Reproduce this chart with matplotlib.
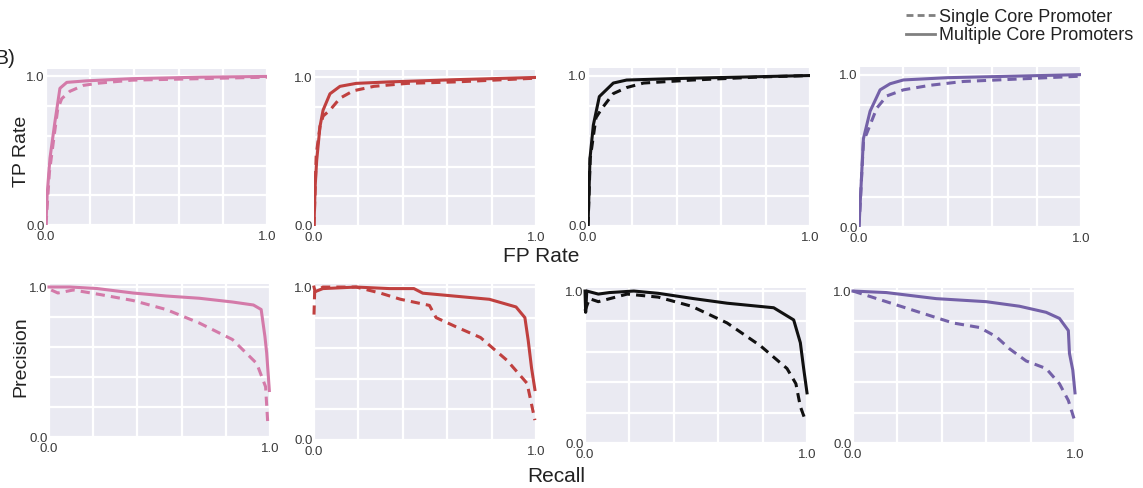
import matplotlib
matplotlib.use('Agg')
import matplotlib.pyplot as plt
from matplotlib.lines import Line2D
import numpy as np

plt.rcParams['font.family'] = ['Liberation Sans', 'DejaVu Sans']

# colours per promoter group (columns)
colors = ['#d47aa9', '#c0403f', '#111111', '#7461a8']

# ROC curves: (FP rate, TP rate)
roc_multi_fpr = [
    [0, 0.005, 0.018, 0.04, 0.063, 0.094, 0.18, 0.39, 0.70, 1.0],
    [0, 0.005, 0.012, 0.027, 0.041, 0.072, 0.117, 0.19, 0.34, 0.64, 1.0],
    [0, 0.009, 0.024, 0.051, 0.114, 0.174, 0.40, 0.70, 1.0],
    [0, 0.02, 0.05, 0.095, 0.14, 0.20, 0.40, 0.70, 1.0],
]
roc_multi_tpr = [
    [0, 0.2, 0.45, 0.69, 0.92, 0.96, 0.97, 0.985, 0.995, 1.0],
    [0, 0.26, 0.44, 0.67, 0.78, 0.89, 0.94, 0.96, 0.97, 0.985, 1.0],
    [0, 0.45, 0.67, 0.86, 0.95, 0.97, 0.98, 0.99, 1.0],
    [0, 0.58, 0.76, 0.90, 0.94, 0.965, 0.98, 0.99, 1.0],
]
roc_single_fpr = [
    [0, 0.015, 0.035, 0.053, 0.071, 0.108, 0.17, 0.24, 0.39, 0.70, 1.0],
    [0, 0.01, 0.027, 0.041, 0.072, 0.117, 0.177, 0.27, 0.42, 0.64, 1.0],
    [0, 0.01, 0.036, 0.062, 0.114, 0.174, 0.25, 0.47, 0.77, 1.0],
    [0, 0.02, 0.05, 0.08, 0.125, 0.20, 0.32, 0.47, 0.70, 1.0],
]
roc_single_tpr = [
    [0, 0.35, 0.58, 0.78, 0.85, 0.90, 0.94, 0.955, 0.975, 0.985, 0.995],
    [0, 0.48, 0.67, 0.74, 0.78, 0.86, 0.91, 0.94, 0.96, 0.97, 0.995],
    [0, 0.45, 0.72, 0.78, 0.88, 0.92, 0.95, 0.97, 0.99, 1.0],
    [0, 0.56, 0.67, 0.78, 0.86, 0.90, 0.93, 0.955, 0.97, 0.99],
]

# PR curves: (recall, precision)
pr_multi_rec = [
    [0, 0.095, 0.216, 0.38, 0.53, 0.68, 0.83, 0.925, 0.96, 0.977, 0.985, 0.997],
    [0, 0.005, 0.04, 0.19, 0.34, 0.45, 0.49, 0.64, 0.79, 0.91, 0.95, 0.965, 0.98, 0.995],
    [0, 0.003, 0.008, 0.06, 0.11, 0.22, 0.33, 0.49, 0.64, 0.85, 0.94, 0.97, 0.985, 1.0],
    [0, 0.15, 0.375, 0.60, 0.75, 0.87, 0.93, 0.97, 0.975, 0.99, 1.0],
]
pr_multi_prec = [
    [1.0, 1.0, 0.99, 0.96, 0.94, 0.925, 0.90, 0.88, 0.85, 0.67, 0.56, 0.31],
    [1.0, 0.97, 0.99, 1.0, 0.99, 0.99, 0.96, 0.94, 0.92, 0.87, 0.80, 0.65, 0.47, 0.33],
    [1.0, 0.86, 1.0, 0.98, 0.99, 1.0, 0.985, 0.95, 0.92, 0.89, 0.81, 0.66, 0.49, 0.33],
    [1.0, 0.99, 0.95, 0.93, 0.90, 0.86, 0.82, 0.74, 0.59, 0.48, 0.33],
]
pr_single_rec = [
    [0.01, 0.04, 0.11, 0.23, 0.38, 0.53, 0.68, 0.83, 0.94, 0.98, 0.99],
    [0, 0.003, 0.04, 0.19, 0.30, 0.39, 0.52, 0.55, 0.64, 0.75, 0.87, 0.96, 0.995],
    [0, 0.02, 0.06, 0.19, 0.33, 0.48, 0.64, 0.79, 0.91, 0.95, 0.97, 0.99],
    [0, 0.15, 0.30, 0.45, 0.57, 0.645, 0.705, 0.78, 0.87, 0.93, 0.97, 1.0],
]
pr_single_prec = [
    [0.98, 0.96, 0.98, 0.95, 0.91, 0.85, 0.76, 0.65, 0.49, 0.335, 0.09],
    [0.82, 0.97, 1.0, 1.0, 0.96, 0.92, 0.88, 0.80, 0.74, 0.67, 0.52, 0.37, 0.13],
    [0.87, 0.95, 0.93, 0.98, 0.96, 0.90, 0.79, 0.64, 0.49, 0.39, 0.24, 0.16],
    [1.0, 0.93, 0.86, 0.79, 0.76, 0.70, 0.62, 0.54, 0.49, 0.39, 0.28, 0.14],
]

W, H = 1143, 488
fig = plt.figure(figsize=(W / 100, H / 100), dpi=100)

# axes boxes in pixels: left, right, top, bottom
top_boxes = [(46, 267, 69, 225), (314, 536, 70, 226), (588, 810, 68, 226), (859, 1081, 67, 227)]
bot_boxes = [(49, 270, 284, 437), (314, 536, 284, 440), (585, 807, 288, 443), (853, 1075, 288, 443)]


def make_ax(box, ytop):
    l, r, t, b = box
    ax = fig.add_axes([l / W, 1 - b / H, (r - l) / W, (b - t) / H])
    ax.set_facecolor('#eaeaf2')
    for s in ax.spines.values():
        s.set_visible(False)
    grid = np.linspace(0, 1, 6)
    ax.set_xticks(grid)
    ax.set_yticks(grid)
    ax.set_xticklabels(['0.0', '', '', '', '', '1.0'])
    ax.set_yticklabels(['0.0', '', '', '', '', '1.0'])
    ax.grid(True, color='white', linewidth=1.6)
    ax.set_axisbelow(True)
    ax.tick_params(length=0, labelsize=9.5, labelcolor='#3a3a3a')
    ax.tick_params(axis='x', pad=4)
    ax.tick_params(axis='y', pad=1)
    ax.set_xlim(0, 1)
    ax.set_ylim(0, ytop)
    return ax


for i in range(4):
    ax = make_ax(top_boxes[i], 1.05)
    ax.plot(roc_single_fpr[i], roc_single_tpr[i], color=colors[i], lw=2.2, ls=(0, (3, 2)))
    ax.plot(roc_multi_fpr[i], roc_multi_tpr[i], color=colors[i], lw=2.2)

    ax = make_ax(bot_boxes[i], 1.02)
    ax.plot(pr_single_rec[i], pr_single_prec[i], color=colors[i], lw=2.2, ls=(0, (3, 2)), clip_on=False)
    ax.plot(pr_multi_rec[i], pr_multi_prec[i], color=colors[i], lw=2.2, clip_on=False)

fig.text(21 / W, 1 - 151 / H, 'TP Rate', fontsize=14, rotation=90, ha='center', va='center', color='#222222')
fig.text(21 / W, 1 - 357 / H, 'Precision', fontsize=14, rotation=90, ha='center', va='center', color='#222222')
fig.text(541 / W, 1 - 256 / H, 'FP Rate', fontsize=15, ha='center', va='center', color='#222222')
fig.text(556 / W, 1 - 477 / H, 'Recall', fontsize=15, ha='center', va='center', color='#222222')
fig.text(-6 / W, 1 - 58 / H, 'B)', fontsize=15, ha='left', va='center', color='#222222')

handles = [Line2D([], [], color='#808080', lw=2, ls=(0, (2.5, 1.5))),
           Line2D([], [], color='#808080', lw=2)]
fig.legend(handles, ['Single Core Promoter', 'Multiple Core Promoters'],
           loc='upper right', bbox_to_anchor=(1146 / W, 1 + 4 / H), frameon=False,
           fontsize=13, handlelength=1.6, handletextpad=0.25, labelspacing=0.1,
           borderpad=0.2, labelcolor='#222222')

fig.savefig('out.png', dpi=100)
